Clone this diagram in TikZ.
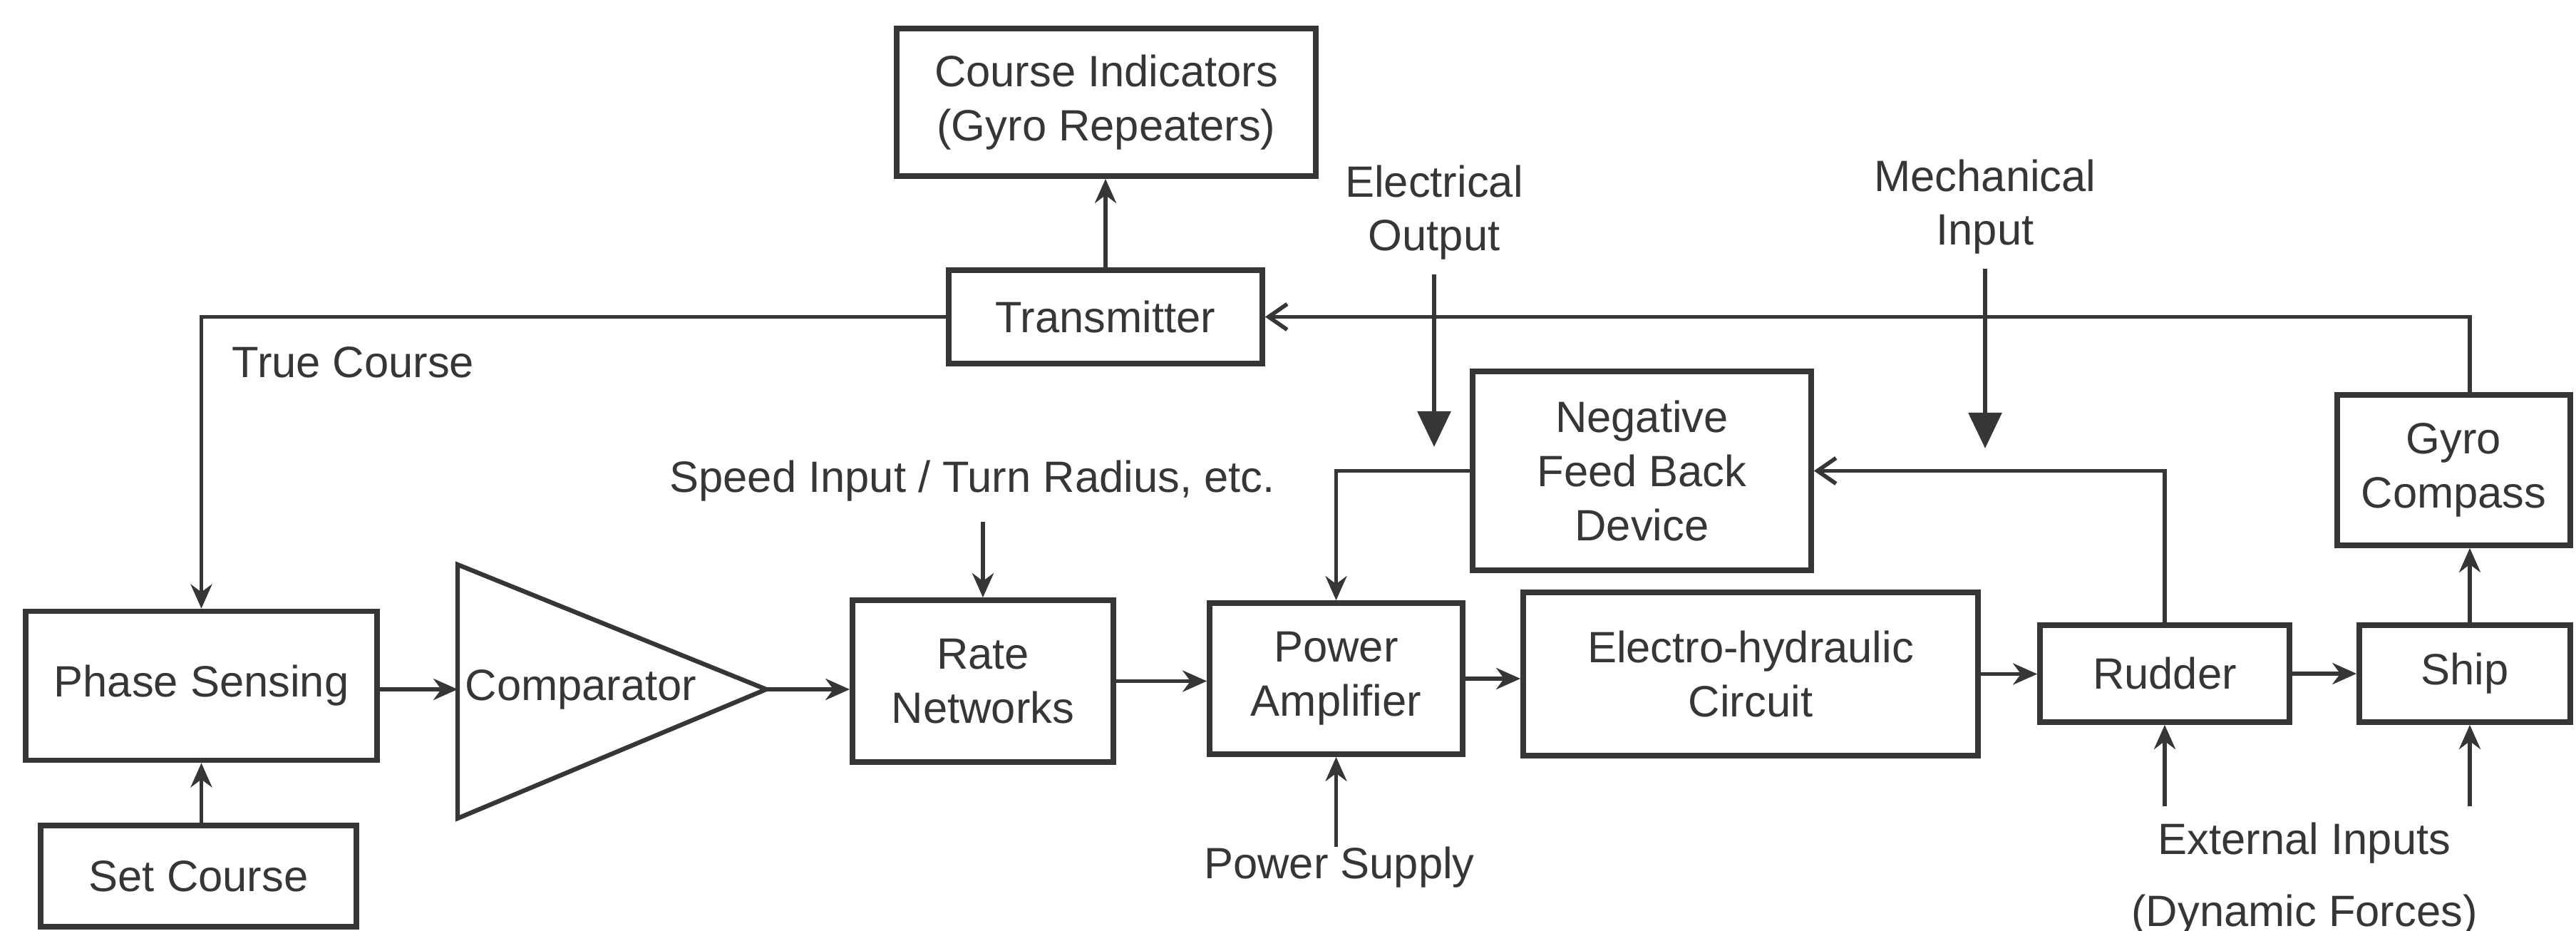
\documentclass[tikz,border=0pt]{standalone}
\usepackage{fontspec}
\setmainfont{Liberation Sans}
\usepackage{xcolor}
\usepackage{tikz}
\usetikzlibrary{positioning,arrows.meta,calc}
\definecolor{ink}{HTML}{363636}

\begin{document}
\begin{tikzpicture}[
  font=\fontsize{17.5}{21.5}\selectfont,
  blk/.style={draw=ink, line width=2.2pt, align=center, inner sep=1pt, text=ink},
  lab/.style={align=center, inner sep=0pt, text=ink},
  arr/.style={draw=ink, line width=1.6pt, -{Stealth[length=3.4mm,width=3mm]}},
  barb/.style={draw=ink, line width=1.6pt, -{Straight Barb[length=2.6mm,width=3.6mm,line width=1.6pt]}},
  big/.style={draw=ink, line width=1.7pt, -{Triangle[length=5mm,width=4.6mm]}},
]
\useasboundingbox (0,0) rectangle (36.14,-13.06);

% top: transmitter and repeaters
\node[blk, minimum width=58.8mm, minimum height=20.7mm] (ci) at (15.52,-1.435) {Course Indicators\\(Gyro Repeaters)};
\node[blk, minimum width=44mm, minimum height=13.1mm] (tx) at (15.51,-4.445) {Transmitter};

% main forward chain
\node[blk, minimum width=49.3mm, minimum height=20.9mm] (ps) at (2.825,-9.62) {Phase Sensing};
\node[blk, minimum width=44.3mm, minimum height=14.2mm] (sc) at (2.785,-12.29) {Set Course};
\coordinate (cmpin) at (6.42,-9.67);
\coordinate (cmpout) at (10.75,-9.67);
\draw[ink, line width=1.8pt, line join=miter] (6.42,-7.92) -- (cmpout) -- (6.42,-11.48) -- cycle;
\node[lab, anchor=west] (cmp) at (6.52,-9.67) {Comparator};
\node[blk, minimum width=36.6mm, minimum height=22.7mm] (rn) at (13.79,-9.555) {Rate\\Networks};
\node[blk, minimum width=35.5mm, minimum height=21.2mm] (pa) at (18.745,-9.52) {Power\\Amplifier};
\node[blk, minimum width=63.8mm, minimum height=22.9mm] (eh) at (24.56,-9.455) {Electro-hydraulic\\Circuit};
\node[blk, minimum width=35mm, minimum height=13.6mm] (rd) at (30.37,-9.45) {Rudder};
\node[blk, minimum width=29.6mm, minimum height=13.6mm] (sh) at (34.58,-9.45) {Ship};

% feedback side
\node[blk, minimum width=47.5mm, minimum height=27.9mm] (fb) at (23.035,-6.605) {Negative\\Feed Back\\Device};
\node[blk, minimum width=32.7mm, minimum height=21.1mm] (gc) at (34.425,-6.595) {Gyro\\Compass};
\coordinate (gtop) at (34.65,-4.42);

% outside inputs and labels
\node[lab, anchor=west] (tc) at (3.25,-5.08) {True Course};
\node[lab] (eo) at (20.12,-2.98) {Electrical\\Output};
\node[lab] (mi) at (27.85,-2.90) {Mechanical\\Input};
\coordinate (eoend) at (20.12,-6.27);
\coordinate (miend) at (27.85,-6.29);
\node[lab] (spd) at (13.64,-6.75) {Speed Input / Turn Radius, etc.};
\node[lab] (psup) at (18.79,-12.17) {Power Supply};
\node[lab] (ext) at (32.33,-11.83) {External Inputs};
\node[lab] (dyn) at (32.33,-12.84) {(Dynamic Forces)};
\coordinate (extin) at (32.33,-11.31);

% connectors
\draw[arr] (tx.north) -- (tx.north |- ci.south);
\draw[arr] (tx.west) -| (ps.north);
\draw[barb] (gc.north -| gtop) |- (tx.east);
\draw[arr] (ps.south |- sc.north) -- (ps.south);
\draw[arr] (ps.east |- cmpin) -- (cmpin);
\draw[arr] (cmpout) -- (cmpout -| rn.west);
\draw[arr] (rn.east) -- (rn.east -| pa.west);
\draw[arr] (pa.east) -- (pa.east -| eh.west);
\draw[arr] (eh.east) -- (eh.east -| rd.west);
\draw[arr] (rd.east) -- (rd.east -| sh.west);
\draw[arr] (sh.north -| gtop) -- (gc.south -| gtop);
\draw[barb] (rd.north) |- (fb.east);
\draw[arr] (fb.west) -| (pa.north);
\draw[big] ([yshift=-2mm]eo.south) -- (eoend);
\draw[big] ([yshift=-2mm]mi.south) -- (miend);
\draw[arr] ($(spd.south -| rn.north)+(0,-0.28)$) -- (rn.north);
\draw[arr] (psup.north -| pa.south) -- (pa.south);
\draw[arr] (rd.south |- extin) -- (rd.south);
\draw[arr] (extin -| gtop) -- (sh.south -| gtop);
\end{tikzpicture}
\end{document}
